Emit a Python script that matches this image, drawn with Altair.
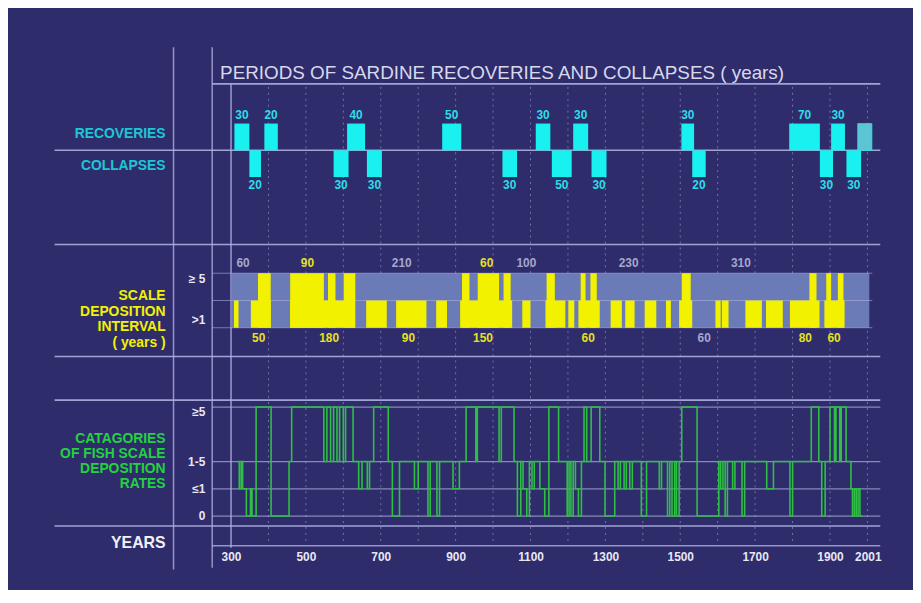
import altair as alt
import pandas as pd

# ---------------- data (years) ----------------
# top panel: periods of sardine recoveries (above) and collapses (below)
rec_start = [309, 389, 610, 864, 1114, 1214, 1503, 1791, 1903]
rec_end = [349, 425, 658, 915, 1153, 1254, 1537, 1873, 1940]
rec_label = ["30", "20", "40", "50", "30", "30", "30", "70", "30"]
recent_start = [1974]
recent_end = [2012]
col_start = [349, 574, 663, 1025, 1157, 1263, 1532, 1873, 1944]
col_end = [380, 614, 703, 1064, 1210, 1303, 1568, 1908, 1983]
col_label = ["20", "30", "30", "30", "50", "30", "20", "30", "30"]

# middle panel: scale deposition interval (>1 = low bars, >=5 = tall bars)
band_start = [302]
band_end = [2005]
low_start = [308, 353, 458, 661, 741, 848, 912, 1078, 1140, 1201, 1228, 1314, 1353,
             1405, 1462, 1497, 1594, 1611, 1674, 1729, 1793, 1885]
low_end = [320, 406, 631, 716, 822, 877, 1051, 1100, 1193, 1217, 1285, 1344, 1378,
           1436, 1475, 1532, 1608, 1629, 1718, 1774, 1872, 1939]
high_start = [372, 458, 559, 601, 917, 959, 1028, 1143, 1234, 1260, 1504, 1845, 1890, 1921]
high_end = [406, 548, 579, 632, 937, 1016, 1047, 1165, 1247, 1277, 1528, 1864, 1903, 1936]
above_year = [332, 504, 756, 983, 1089, 1362, 1662]
above_text = ["60", "90", "210", "60", "100", "230", "310"]
above_kind = ["gap", "dep", "gap", "dep", "gap", "gap", "gap"]
below_year = [374, 562, 774, 973, 1254, 1564, 1834, 1911]
below_text = ["50", "180", "90", "150", "60", "60", "80", "60"]
below_kind = ["dep", "dep", "dep", "dep", "dep", "gap", "dep", "dep"]

# bottom panel: categories of fish scale deposition rates (0, <=1, 1-5, >=5 -> 0,1,2,4)
green_year = [317, 322, 327, 331, 341, 352, 356, 367, 407, 455, 462, 548, 556, 566, 574,
              583, 590, 600, 606, 626, 641, 650, 664, 670, 681, 720, 731, 750, 790, 800,
              826, 832, 850, 857, 893, 910, 928, 954, 958, 1016, 1022, 1056, 1065, 1074,
              1080, 1090, 1097, 1104, 1110, 1125, 1138, 1149, 1175, 1198, 1203, 1208, 1214,
              1220, 1228, 1236, 1243, 1250, 1262, 1285, 1299, 1325, 1334, 1340, 1350, 1356,
              1365, 1372, 1396, 1410, 1444, 1450, 1466, 1472, 1478, 1485, 1490, 1497, 1504,
              1545, 1603, 1608, 1614, 1620, 1626, 1640, 1646, 1665, 1672, 1731, 1749, 1793,
              1800, 1850, 1870, 1878, 1887, 1900, 1912, 1916, 1926, 1930, 1943, 1956, 1960,
              1965, 1970, 1975, 1980, 1987]
green_level = [2, 1, 2, 1, 0, 1, 0, 4, 0, 2, 4, 2, 4, 2, 4,
               2, 4, 2, 4, 2, 1, 2, 1, 2, 4, 2, 0, 2, 1, 2,
               0, 2, 0, 2, 1, 2, 4, 2, 4, 2, 4, 2, 0, 2,
               1, 0, 2, 1, 2, 1, 0, 4, 2, 0, 2, 0, 2,
               1, 0, 2, 4, 2, 4, 2, 0, 2, 1, 2, 1, 2,
               1, 2, 0, 2, 1, 2, 0, 2, 0, 2, 0, 2, 4,
               0, 2, 1, 2, 0, 2, 1, 2, 0, 2, 1, 2, 0,
               2, 4, 2, 0, 2, 4, 2, 4, 2, 4, 2, 1, 0,
               1, 0, 1, 0, 0]
assert len(green_year) == len(green_level)

grid_years = [400, 500, 600, 700, 800, 900, 1000, 1100, 1200, 1300, 1400, 1500,
              1600, 1700, 1800, 1900, 2000]
axis_years = [300, 500, 700, 900, 1100, 1300, 1500, 1700, 1900, 2001]
mid_levels = [0, 1, 2]
green_levels = [0, 1, 2, 4]
green_tick_text = ["0", "≤1", "1-5"]

# ---------------- styles ----------------
NAVY = "#2f2c6c"
LINE = "#aeb0e0"
CYAN = "#19f0f0"
CYAN_SOFT = "#5cc4d2"
CYAN_TXT = "#2adfe8"
CYAN_LBL = "#1ec6d4"
YEL = "#f2f200"
YEL_TXT = "#e8e020"
GRAY = "#a4a8cc"
BAND = "#6b7bb8"
GREEN = "#2fbf45"
GREEN_TXT = "#22d23e"
WHITE = "#e8e8f4"
FONT = "Liberation Sans"

X = alt.Scale(domain=[300, 2001], range=[225, 867.4], nice=False, zero=False)
XAX = alt.Axis(values=axis_years, format="d", domain=False, ticks=False, grid=False,
               labelColor=WHITE, labelFont=FONT, labelFontSize=12, labelFontWeight="bold",
               labelPadding=4, labelFlush=False, labelOverlap=False, offset=-40, title=None)
TOP = alt.Scale(domain=[-1, 1], range=[168, 114], nice=False, zero=False)
MID = alt.Scale(domain=[0, 2], range=[320, 265], nice=False, zero=False)
GRN = alt.Scale(domain=[0, 4], range=[510, 400], nice=False, zero=False)


def xq(field):
    return alt.X(f"{field}:Q", scale=X, axis=XAX)


one = pd.DataFrame({"k": [0]})


def hline(y, x1, x2, color=LINE, width=1.6, opacity=0.9):
    return alt.Chart(one).mark_rule(color=color, strokeWidth=width, opacity=opacity).encode(
        x=alt.value(x1), x2=alt.value(x2), y=alt.value(y))


def vline(x, y1, y2, color=LINE, width=1.5, opacity=0.8):
    return alt.Chart(one).mark_rule(color=color, strokeWidth=width, opacity=opacity).encode(
        x=alt.value(x), y=alt.value(y1), y2=alt.value(y2))


def label(text, x, y, color, size=14, weight="bold", align="right", line_height=15):
    return alt.Chart(one).mark_text(text=text, color=color, font=FONT, fontSize=size,
                                    fontWeight=weight, align=align, baseline="middle",
                                    lineHeight=line_height).encode(
        x=alt.value(x), y=alt.value(y))


def rects(start, end, lo, hi, scale, color, **kw):
    df = pd.DataFrame({"start": start, "end": end})
    return alt.Chart(df).transform_calculate(lo=str(lo), hi=str(hi)).mark_rect(
        color=color, **kw).encode(
        x=xq("start"), x2="end", y=alt.Y("lo:Q", scale=scale, axis=None), y2="hi")


layers = []

# frame lines
layers += [
    vline(167, 37, 564),
    vline(206, 37, 562),
    hline(74, 206, 880),
    hline(236, 47, 880),
    hline(349, 47, 880),
    hline(393, 47, 880),
    hline(520, 47, 880),
    hline(540, 206, 880, opacity=0.8, width=1.4),
]

# dotted century grid
layers.append(alt.Chart(pd.DataFrame({"year": grid_years})).mark_rule(
    color=LINE, strokeDash=[2, 4], strokeWidth=1, opacity=0.55).encode(
    x=xq("year"), y=alt.value(77), y2=alt.value(537)))

# solid line at year 300
layers.append(alt.Chart(pd.DataFrame({"year": [300]})).mark_rule(
    color=LINE, strokeWidth=1.5, opacity=0.85).encode(
    x=xq("year"), y=alt.value(74), y2=alt.value(542)))

# ---- top panel
layers.append(alt.Chart(pd.DataFrame({"v": [0]})).mark_rule(
    color=LINE, strokeWidth=1.6, opacity=0.9).encode(
    x=alt.value(47), x2=alt.value(880), y=alt.Y("v:Q", scale=TOP, axis=None)))
layers.append(rects(rec_start, rec_end, 0, 1, TOP, CYAN))
layers.append(rects(col_start, col_end, -1, 0, TOP, CYAN))
layers.append(rects(recent_start, recent_end, 0, 1, TOP, CYAN_SOFT,
                    stroke=CYAN, strokeWidth=1, strokeOpacity=0.7))
rec_df = pd.DataFrame({"start": rec_start, "end": rec_end, "label": rec_label})
col_df = pd.DataFrame({"start": col_start, "end": col_end, "label": col_label})
layers.append(alt.Chart(rec_df).transform_calculate(
    mid="(datum.start + datum.end) / 2", pos="1").mark_text(
    color=CYAN_TXT, font=FONT, fontSize=12, fontWeight="bold", baseline="middle", dy=-9).encode(
    x=xq("mid"), y=alt.Y("pos:Q", scale=TOP, axis=None), text="label:N"))
layers.append(alt.Chart(col_df).transform_calculate(
    mid="(datum.start + datum.end) / 2", pos="-1").mark_text(
    color=CYAN_TXT, font=FONT, fontSize=12, fontWeight="bold", baseline="middle", dy=8).encode(
    x=xq("mid"), y=alt.Y("pos:Q", scale=TOP, axis=None), text="label:N"))

# ---- middle panel
layers.append(rects(band_start, band_end, 0, 2, MID, BAND))
layers.append(alt.Chart(pd.DataFrame({"v": mid_levels})).mark_rule(
    color=LINE, strokeWidth=1, opacity=0.6).encode(
    x=alt.value(206), x2=alt.value(872), y=alt.Y("v:Q", scale=MID, axis=None)))
layers.append(rects(low_start, low_end, 0, 1, MID, YEL))
layers.append(rects(high_start, high_end, 0, 2, MID, YEL))
note_color = alt.Color("kind:N", scale=alt.Scale(domain=["dep", "gap"], range=[YEL_TXT, GRAY]),
                       legend=None)
layers.append(alt.Chart(pd.DataFrame({"year": above_year, "t": above_text, "kind": above_kind}))
              .transform_calculate(pos="2").mark_text(
    font=FONT, fontSize=12, fontWeight="bold", baseline="middle", dy=-10).encode(
    x=xq("year"), y=alt.Y("pos:Q", scale=MID, axis=None), text="t:N", color=note_color))
layers.append(alt.Chart(pd.DataFrame({"year": below_year, "t": below_text, "kind": below_kind}))
              .transform_calculate(pos="0").mark_text(
    font=FONT, fontSize=12, fontWeight="bold", baseline="middle", dy=10).encode(
    x=xq("year"), y=alt.Y("pos:Q", scale=MID, axis=None), text="t:N", color=note_color))
layers.append(alt.Chart(pd.DataFrame({"v": [2], "t": ["≥ 5"]})).mark_text(
    color=WHITE, font=FONT, fontSize=12, fontWeight="bold", align="right", baseline="top", dy=1).encode(
    x=alt.value(199), y=alt.Y("v:Q", scale=MID, axis=None), text="t:N"))
layers.append(alt.Chart(pd.DataFrame({"v": [0], "t": [">1"]})).mark_text(
    color=WHITE, font=FONT, fontSize=12, fontWeight="bold", align="right", baseline="bottom", dy=-1).encode(
    x=alt.value(199), y=alt.Y("v:Q", scale=MID, axis=None), text="t:N"))

# ---- bottom panel
layers.append(alt.Chart(pd.DataFrame({"v": green_levels})).mark_rule(
    color=LINE, strokeWidth=1.2, opacity=0.7).encode(
    x=alt.value(206), x2=alt.value(880), y=alt.Y("v:Q", scale=GRN, axis=None)))
layers.append(alt.Chart(pd.DataFrame({"year": green_year, "level": green_level})).mark_line(
    interpolate="step-after", color=GREEN, strokeWidth=1.6).encode(
    x=xq("year"), y=alt.Y("level:Q", scale=GRN, axis=None)))
layers.append(alt.Chart(pd.DataFrame({"v": green_levels[:3], "t": green_tick_text})).mark_text(
    color=WHITE, font=FONT, fontSize=12, fontWeight="bold", align="right", baseline="middle").encode(
    x=alt.value(199), y=alt.Y("v:Q", scale=GRN, axis=None), text="t:N"))
layers.append(alt.Chart(pd.DataFrame({"v": [4], "t": ["≥5"]})).mark_text(
    color=WHITE, font=FONT, fontSize=12, fontWeight="bold", align="right", baseline="top", dy=0).encode(
    x=alt.value(199), y=alt.Y("v:Q", scale=GRN, axis=None), text="t:N"))

# ---- titles and side labels
layers += [
    label("PERIODS OF SARDINE RECOVERIES AND COLLAPSES ( years)", 214, 63, "#d8d8ee",
          size=19, weight="normal", align="left"),
    label("RECOVERIES", 159, 125, CYAN_LBL),
    label("COLLAPSES", 159, 157, CYAN_LBL),
    label(["SCALE", "DEPOSITION", "INTERVAL", "( years )"], 159, 288.5, YEL, line_height=15.5),
    label(["CATAGORIES", "OF FISH SCALE", "DEPOSITION", "RATES"], 159, 432.5, GREEN_TXT),
    label("YEARS", 159, 537, "#f0f0f6", size=16),
]

chart = alt.layer(*layers).resolve_scale(y="independent").properties(
    width=913, height=582, autosize=alt.AutoSizeParams(type="none"), padding=0,
    background=NAVY,
).configure_view(stroke=None)

chart.save("out.html", embed_options={"renderer": "svg", "actions": False})
